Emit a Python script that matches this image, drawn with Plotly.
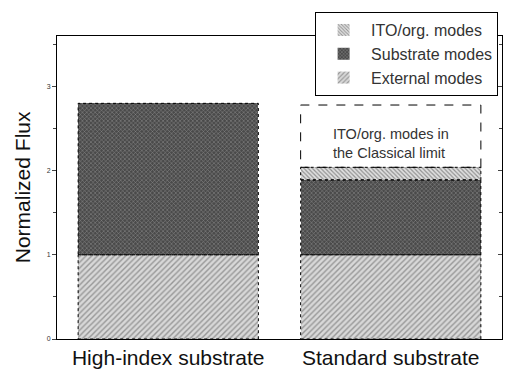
import plotly.graph_objects as go

categories = ["High-index substrate", "Standard substrate"]
external_modes = [1.0, 1.0]
substrate_modes = [1.8, 0.89]
ito_modes = [0.0, 0.15]
classical_limit_total = [None, 2.78]
bar_width = 0.81

x_idx = list(range(len(categories)))
FONT = "Arial, Liberation Sans, Helvetica"

fig = go.Figure()
fig.add_trace(go.Bar(
    x=x_idx, y=external_modes, name="External modes", width=bar_width,
    marker=dict(color="#d0d0d0", line=dict(width=0),
                pattern=dict(shape="/", fgcolor="#555555", bgcolor="#d8d8d8", size=4, solidity=0.35))))
fig.add_trace(go.Bar(
    x=x_idx, y=substrate_modes, name="Substrate modes", width=bar_width,
    marker=dict(color="#555555", line=dict(width=0),
                pattern=dict(shape="x", fgcolor="#cfcfcf", bgcolor="#4a4a4a", size=3, solidity=0.3))))
fig.add_trace(go.Bar(
    x=x_idx, y=ito_modes, name="ITO/org. modes", width=bar_width,
    marker=dict(color="#aaaaaa", line=dict(width=0),
                pattern=dict(shape="\\", fgcolor="#444444", bgcolor="#e0e0e0", size=3, solidity=0.4))))
# invisible helper trace so the right-hand (inside-tick) axis is drawn
fig.add_trace(go.Scatter(x=x_idx, y=external_modes, yaxis="y2", mode="markers",
                         marker=dict(opacity=0), showlegend=False, hoverinfo="skip"))

shapes = []
for i in x_idx:
    base = 0.0
    for seg in (external_modes[i], substrate_modes[i], ito_modes[i]):
        if seg and seg > 0:
            shapes.append(dict(type="rect", xref="x", yref="y",
                               x0=i - bar_width / 2, x1=i + bar_width / 2,
                               y0=base, y1=base + seg,
                               line=dict(color="black", width=1, dash="dot")))
        base += seg or 0
    if classical_limit_total[i] is not None:
        shapes.append(dict(type="rect", xref="x", yref="y",
                           x0=i - bar_width / 2, x1=i + bar_width / 2,
                           y0=base, y1=classical_limit_total[i],
                           line=dict(color="black", width=1, dash="dash")))
        fig.add_annotation(x=i, y=(base + classical_limit_total[i]) / 2 - 0.085,
                           xref="x", yref="y",
                           text="ITO/org. modes in<br>the Classical limit",
                           showarrow=False, align="left",
                           font=dict(family=FONT, size=14.5, color="#333"))

# y-axis title placed as annotation to match reference position
fig.add_annotation(x=-0.077, y=0.5, xref="paper", yref="paper",
                   text="Normalized Flux", textangle=-90, showarrow=False,
                   xanchor="center", yanchor="middle",
                   font=dict(family=FONT, size=21, color="#111"))

fig.update_layout(
    width=509, height=371,
    margin=dict(l=57, r=7, t=36, b=32),
    barmode="stack",
    plot_bgcolor="white", paper_bgcolor="white",
    shapes=shapes,
    showlegend=True,
    legend=dict(x=0.58, y=1.079, xanchor="left", yanchor="top",
                bgcolor="white", bordercolor="black", borderwidth=1,
                traceorder="reversed",
                font=dict(family=FONT, size=16, color="#333"),
                itemwidth=45, tracegroupgap=0),
    font=dict(family=FONT, color="#111"),
    xaxis=dict(range=[-0.5, 1.5], tickvals=x_idx, ticktext=categories,
               showline=True, linecolor="black", linewidth=1, mirror=True,
               ticks="", showgrid=False, zeroline=False, automargin=False,
               tickfont=dict(size=21, color="#111")),
    yaxis=dict(range=[0, 3.6], tickvals=[0, 1, 2, 3],
               showline=True, linecolor="black", linewidth=1,
               ticks="outside", ticklen=4, showgrid=False, zeroline=False,
               automargin=False,
               minor=dict(dtick=0.5, ticks="outside", ticklen=3),
               tickfont=dict(size=7, color="#333")),
    yaxis2=dict(overlaying="y", side="right", range=[0, 3.6],
                showline=True, linecolor="black", linewidth=1,
                tickvals=[0, 1, 2, 3], ticks="inside", ticklen=4,
                showticklabels=False, showgrid=False, zeroline=False, automargin=False,
                minor=dict(dtick=0.5, ticks="inside", ticklen=3)),
)

fig.write_html("out.html")
